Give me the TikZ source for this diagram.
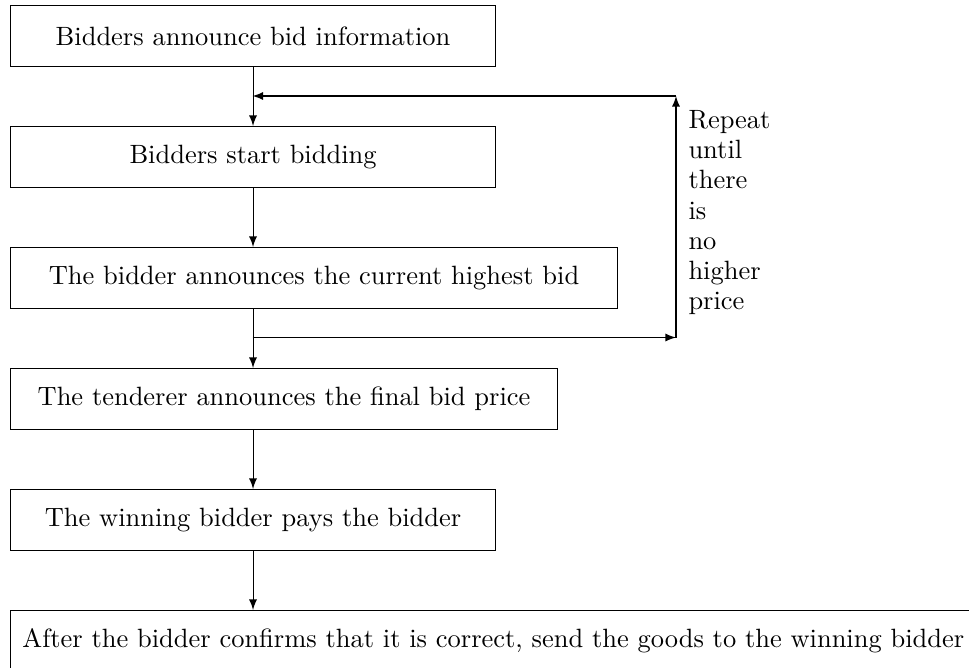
\documentclass[tikz,border=0pt]{standalone}
\usepackage{tikz}
\def\px{0.378pt}
\tikzset{
  stagebox/.style={draw, anchor=north west, minimum width=485*\px,
    minimum height=61*\px, inner xsep=4.5pt},
  flowarrow/.style={-latex},
}
\begin{document}
\begin{tikzpicture}[x=\px, y=-\px]
  \useasboundingbox (0,0) rectangle (969,667);
  % stages, all hung from the left edge
  \node[stagebox] (announce) at (10,5) {Bidders announce bid information};
  \node[stagebox] (start) at (10,126) {Bidders start bidding};
  \node[stagebox, minimum width=607*\px] (highest) at (10,247) {The bidder announces the current highest bid};
  \node[stagebox, minimum width=547*\px] (final) at (10,368) {The tenderer announces the final bid price};
  \node[stagebox] (pay) at (10,489) {The winning bidder pays the bidder};
  \node[stagebox, text width=960*\px, align=left] (goods) at (10,610) {After the bidder confirms that it is correct, send the goods to the winning bidder};

  % main line
  \draw[flowarrow] (announce.south) -- (start.north);
  \draw[flowarrow] (start.south) -- (start.south |- highest.north);
  \draw[flowarrow] (start.south |- highest.south) -- (start.south |- final.north);
  \draw[flowarrow] (start.south |- final.south) -- (pay.north);
  \draw[flowarrow] (pay.south) -- (pay.south |- goods.north);

  % repeat loop
  \coordinate (outlet) at (252.5,337.5);
  \coordinate (lowturn) at (676,337.5);
  \coordinate (highturn) at (676,96);
  \coordinate (inlet) at (252.5,96);
  \draw[flowarrow] (outlet) -- (lowturn);
  \draw[flowarrow] (lowturn) -- (highturn);
  \draw[flowarrow] (highturn) -- (inlet);
  \node[anchor=north west, align=left, inner sep=0pt,
    font=\fontsize{10}{11.4}\selectfont] (repeatnote) at (688,110)
    {Repeat\\until\\there\\is\\no\\higher\\price};
\end{tikzpicture}
\end{document}
